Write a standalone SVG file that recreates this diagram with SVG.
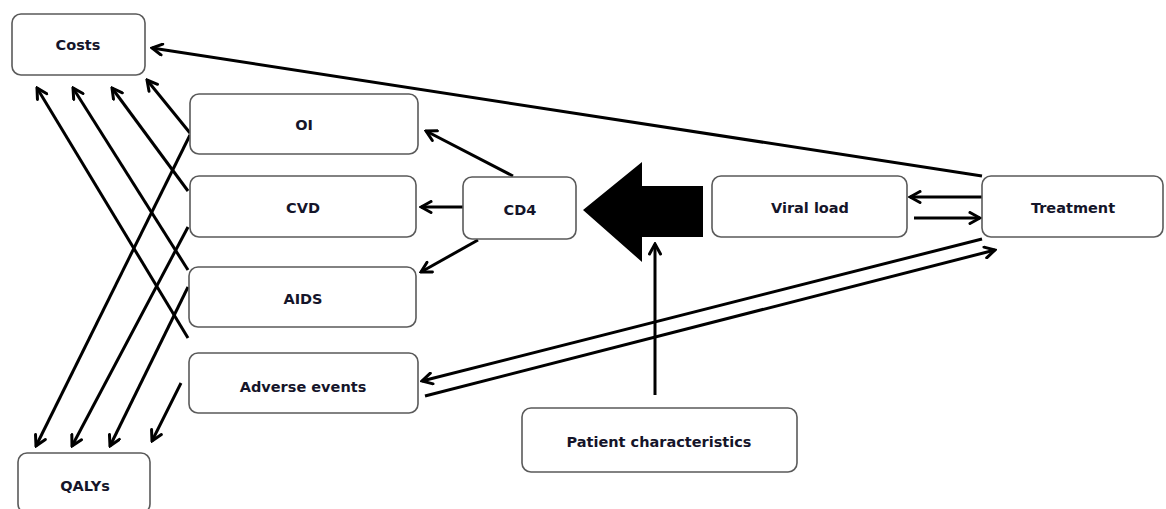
<svg xmlns="http://www.w3.org/2000/svg" width="1166" height="509" viewBox="0 0 1166 509">
<style>
.box{fill:#fff;stroke:#5a5a5a;stroke-width:1.6}
.lbl{font-family:"DejaVu Sans","Liberation Sans",Arial,sans-serif;font-weight:bold;font-size:14.5px;fill:#15152a;text-anchor:middle;dominant-baseline:central}
.c{stroke:#000;stroke-width:3;fill:none;marker-end:url(#ah)}
</style>
<defs>
<marker id="ah" viewBox="0 0 14 14" refX="12" refY="7" markerWidth="14" markerHeight="14" markerUnits="userSpaceOnUse" orient="auto">
<path d="M2,1.5 L12,7 L2,12.5" fill="none" stroke="#000" stroke-width="3" stroke-linecap="round" stroke-linejoin="miter"/>
</marker>
</defs>
<rect width="1166" height="509" fill="#fff"/>
<g id="connectors">
<line class="c" x1="982" y1="176" x2="152" y2="48"/>
<line class="c" x1="982" y1="197" x2="910" y2="197"/>
<line class="c" x1="914" y1="218" x2="980" y2="218"/>
<line class="c" x1="982" y1="239" x2="422" y2="381"/>
<line class="c" x1="425" y1="396" x2="995" y2="250"/>
<line class="c" x1="655" y1="395" x2="655" y2="244"/>
<line class="c" x1="513" y1="176" x2="426" y2="131"/>
<line class="c" x1="463" y1="207" x2="421" y2="207"/>
<line class="c" x1="478" y1="240" x2="421" y2="272"/>
<line class="c" x1="190" y1="133" x2="147" y2="80"/>
<line class="c" x1="188" y1="191" x2="112" y2="88"/>
<line class="c" x1="188" y1="270" x2="73" y2="88"/>
<line class="c" x1="188" y1="338" x2="37" y2="88"/>
<line class="c" x1="190" y1="135" x2="36" y2="446"/>
<line class="c" x1="188" y1="227" x2="72" y2="446"/>
<line class="c" x1="188" y1="287" x2="110" y2="446"/>
<line class="c" x1="181" y1="383" x2="152" y2="441"/>
<polygon points="583,210 642,162 642,186 703,186 703,237 642,237 642,262" fill="#000"/>
</g>
<g id="costs"><rect class="box" x="12" y="14" width="133" height="61" rx="9"/><text class="lbl" x="78" y="45">Costs</text></g>
<g id="oi"><rect class="box" x="190" y="94" width="228" height="60" rx="9"/><text class="lbl" x="304" y="125">OI</text></g>
<g id="cvd"><rect class="box" x="190" y="176" width="226" height="61" rx="9"/><text class="lbl" x="303" y="208">CVD</text></g>
<g id="aids"><rect class="box" x="189" y="267" width="227" height="60" rx="9"/><text class="lbl" x="303" y="299">AIDS</text></g>
<g id="adverse"><rect class="box" x="189" y="353" width="229" height="60" rx="9"/><text class="lbl" x="303" y="387">Adverse events</text></g>
<g id="qalys"><rect class="box" x="18" y="453" width="132" height="60" rx="9"/><text class="lbl" x="85" y="486">QALYs</text></g>
<g id="cd4"><rect class="box" x="463" y="177" width="113" height="62" rx="9"/><text class="lbl" x="520" y="210">CD4</text></g>
<g id="viral"><rect class="box" x="712" y="176" width="195" height="61" rx="9"/><text class="lbl" x="810" y="208">Viral load</text></g>
<g id="treatment"><rect class="box" x="982" y="176" width="181" height="61" rx="9"/><text class="lbl" x="1073" y="208">Treatment</text></g>
<g id="patient"><rect class="box" x="522" y="408" width="275" height="64" rx="9"/><text class="lbl" x="659" y="442">Patient characteristics</text></g>
</svg>
